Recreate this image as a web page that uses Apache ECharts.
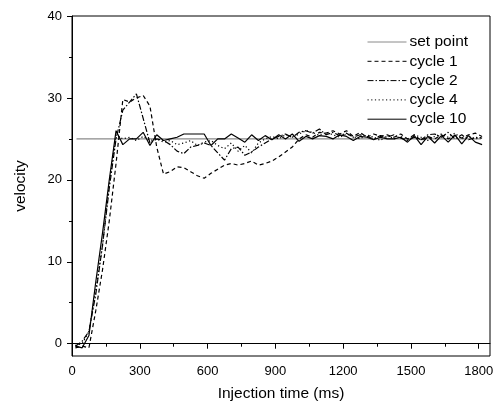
<!DOCTYPE html>
<html>
<head>
<meta charset="utf-8">
<script src="https://cdn.jsdelivr.net/npm/echarts@6/dist/echarts.min.js"></script>
<style>
  html, body { margin: 0; padding: 0; background: #fff; }
  #chart { width: 493px; height: 403px; }
</style>
</head>
<body>
<div id="chart"></div>
<script>
// sample times (ms), shared by the four cycles
var times = [15, 45, 75, 105, 135, 165, 195, 225, 255, 285, 315, 345, 375, 405, 435, 465, 495, 525, 555, 585,
  615, 645, 675, 705, 735, 765, 795, 825, 855, 885, 915, 945, 975, 1005, 1035, 1065, 1095, 1125, 1155, 1185,
  1215, 1245, 1275, 1305, 1335, 1365, 1395, 1425, 1455, 1485, 1515, 1545, 1575, 1605, 1635, 1665, 1695, 1725,
  1755, 1785, 1815];

var cycle1 = [-0.5, -0.3, -0.5, 4, 9, 15, 22, 29.8, 29.5, 30, 30.3, 29, 24, 20.7, 21, 21.6, 21.5, 21, 20.5, 20.2,
  20.8, 21.3, 21.8, 22, 21.8, 22, 22.3, 21.8, 22, 22.3, 22.8, 23.4, 24, 25, 25.5, 25.2, 25.8, 25.7, 26, 25.6,
  26, 25.3, 25.8, 25.2, 25.6, 25.3, 25.5, 25.2, 25.6, 25, 25.5, 24.8, 25.3, 25, 25.5, 25, 25.4, 25.1,
  25.5, 25.7, 25.3];

var cycle2 = [-0.3, 0.3, 1.5, 6, 12, 19, 25, 28.5, 29.5, 30.5, 27.5, 24.5, 25, 24.8, 24.3, 23.5, 23.2, 24, 24.2, 24.5,
  24.2, 23.3, 22.4, 23.8, 24, 23, 23.4, 24, 24.5, 25, 25.3, 25.6, 25.2, 25.8, 26, 25.7, 26.2, 25.5, 25.8, 25.4,
  25.7, 25.2, 25.5, 25.3, 25, 25.4, 25.2, 25.5, 25.1, 24.8, 25.2, 24.9, 25.5, 25.6, 25.2, 25.8, 25, 25.5,
  24.9, 25.2, 25.1];

var cycle4 = [-0.2, 0, 1.5, 6.5, 12, 19.5, 25.5, 25, 25.2, 24.8, 25.3, 24.8, 25, 24.6, 24.8, 24.3, 24.5, 24.8, 24.2, 24.6,
  24.8, 24.2, 23.8, 24.5, 23.5, 24.2, 23.3, 24.5, 25, 25.3, 25, 25.5, 25.2, 25.6, 26, 25.8, 25.4, 25.8, 25.5, 25.2,
  25.6, 25.3, 25, 25.5, 25.2, 24.8, 25.4, 25, 25.3, 24.9, 25.5, 25.2, 24.8, 25.3, 25.6, 25.2, 25.7, 25,
  25.3, 25, 25.2];

var cycle10 = [-0.3, -0.5, 1, 7.5, 13.5, 20, 26, 24.3, 25, 25, 25.8, 24.2, 25.5, 24.8, 25, 25.2, 25.6, 25.6, 25.6, 25.6,
  24.2, 25, 25, 25.6, 25.1, 24.6, 25.5, 24.8, 25.4, 24.9, 25.5, 25, 25.6, 24.7, 25.3, 25, 25.4, 25.3, 25, 25.5,
  25.3, 24.8, 25.3, 25.2, 24.9, 25.2, 25, 25, 25.2, 24.6, 25.4, 24.3, 25.3, 24.5, 25.4, 24.6, 25.5, 24.4,
  25.4, 24.6, 24.3];

var setPointTimes = [20, 1810];
var setPointValues = [25, 25];

var xMajorTicks = [0, 300, 600, 900, 1200, 1500, 1800];
var xMinorTicks = [150, 450, 750, 1050, 1350, 1650];
var yMajorTicks = [0, 10, 20, 30, 40];
var yMinorTicks = [5, 15, 25, 35];

function pairs(xs, ys) {
  return xs.map(function (x, i) { return [x, ys[i]]; });
}

var FONT = "'Liberation Sans', Arial, sans-serif";

var myChart = echarts.init(document.getElementById("chart"), null, { renderer: "canvas" });

function lineSeries(name, values, dash) {
  return {
    name: name,
    type: "line",
    data: pairs(times, values),
    symbol: "none",
    silent: true,
    lineStyle: { color: "#000", width: 1.2, type: dash },
    itemStyle: { color: "#000" },
  };
}

function plainLabel(v) {
  return String(v);
}

var option = {
  animation: false,
  grid: {
    left: 72,
    right: 3,
    top: 16,
    bottom: 47,
    containLabel: false,
    outerBoundsMode: "none",
    show: true,
    borderColor: "#000",
    borderWidth: 1,
  },
  legend: {
    orient: "vertical",
    left: 367,
    top: 34,
    padding: 0,
    itemWidth: 39,
    itemHeight: 14,
    itemGap: 3.3,
    itemStyle: { opacity: 0 },
    lineStyle: { width: 1 },
    textStyle: { fontFamily: FONT, fontSize: 15.5, color: "#000", lineHeight: 16, padding: [0, 0, 0, -2] },
    data: ["set point", "cycle 1", "cycle 2", "cycle 4", "cycle 10"],
  },
  xAxis: [
    {
      type: "value",
      min: 0,
      max: 1850,
      name: "Injection time (ms)",
      nameLocation: "middle",
      nameGap: 30,
      nameTextStyle: { fontFamily: FONT, fontSize: 15.5, color: "#000" },
      axisLine: { show: true, lineStyle: { color: "#000", width: 1 } },
      axisTick: { show: true, length: 5, customValues: xMajorTicks, lineStyle: { color: "#000" } },
      axisLabel: { customValues: xMajorTicks, formatter: plainLabel, fontFamily: FONT, fontSize: 13, color: "#000", margin: 9 },
      splitLine: { show: false },
    },
    {
      type: "value",
      position: "bottom",
      min: 0,
      max: 1850,
      axisLine: { show: false },
      axisTick: { show: true, length: 3, customValues: xMinorTicks, lineStyle: { color: "#000" } },
      axisLabel: { show: false },
      splitLine: { show: false },
    },
  ],
  yAxis: [
    {
      type: "value",
      min: -1.5,
      max: 40,
      name: "velocity",
      nameLocation: "middle",
      nameGap: 43,
      nameTextStyle: { fontFamily: FONT, fontSize: 15.5, color: "#000" },
      axisLine: { show: true, lineStyle: { color: "#000", width: 1 } },
      axisTick: { show: true, length: 5, customValues: yMajorTicks, lineStyle: { color: "#000" } },
      axisLabel: { customValues: yMajorTicks, formatter: plainLabel, fontFamily: FONT, fontSize: 13, color: "#000", margin: 10 },
      splitLine: { show: false },
    },
    {
      type: "value",
      position: "left",
      min: -1.5,
      max: 40,
      axisLine: { show: false },
      axisTick: { show: true, length: 3, customValues: yMinorTicks, lineStyle: { color: "#000" } },
      axisLabel: { show: false },
      splitLine: { show: false },
    },
  ],
  series: [
    {
      name: "set point",
      type: "line",
      data: pairs(setPointTimes, setPointValues),
      symbol: "none",
      silent: true,
      lineStyle: { color: "#8a8a8a", width: 1.2, type: "solid" },
      itemStyle: { color: "#8a8a8a" },
    },
    lineSeries("cycle 1", cycle1, [4, 3]),
    lineSeries("cycle 2", cycle2, [6, 2, 1.5, 2]),
    lineSeries("cycle 4", cycle4, [1.2, 2.5]),
    lineSeries("cycle 10", cycle10, "solid"),
  ],
};

myChart.setOption(option);
</script>
</body>
</html>
